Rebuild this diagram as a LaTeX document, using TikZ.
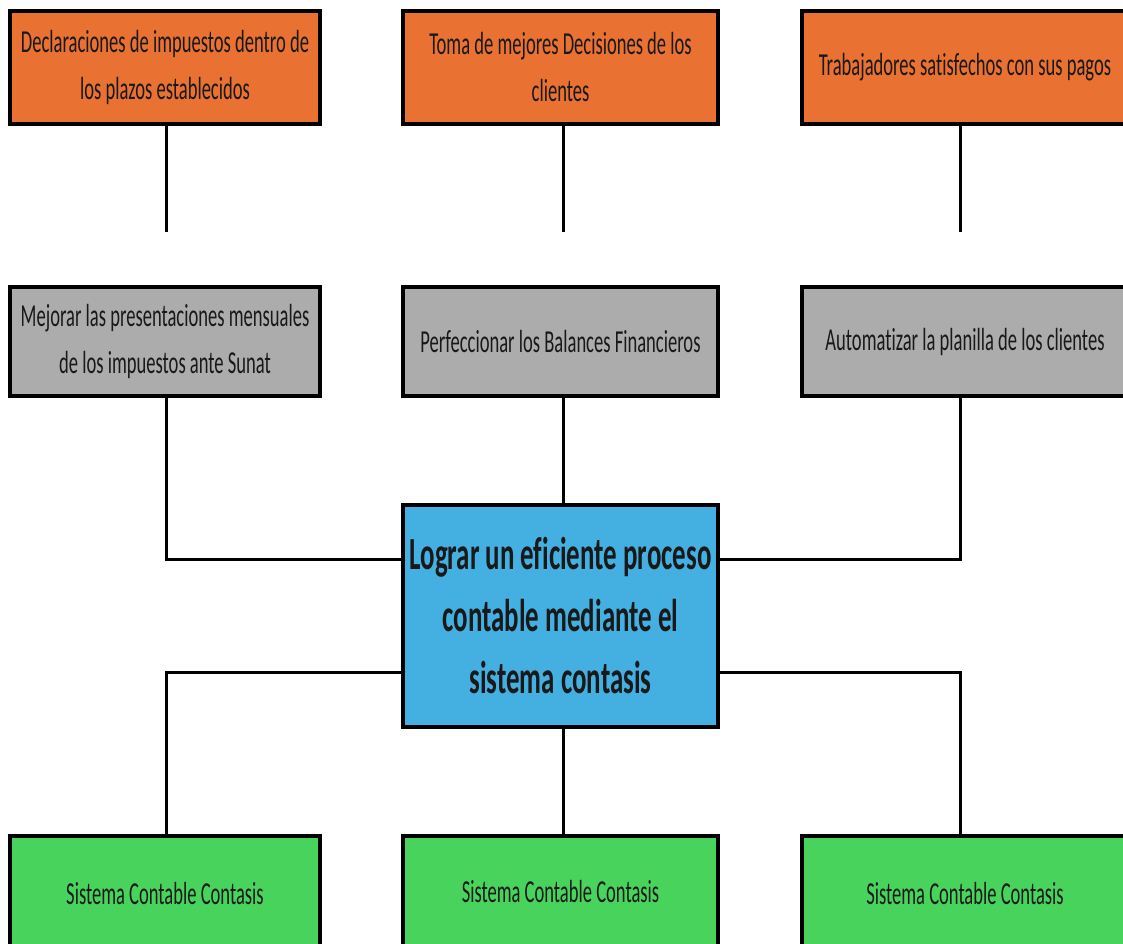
\documentclass[tikz,border=0pt]{standalone}
\usepackage{fontspec}
\newfontfamily\boxfont[FakeStretch=0.58,Ligatures=NoCommon]{Carlito}
\newfontfamily\goalfont[FakeStretch=0.585,Ligatures=NoCommon]{Carlito}
\usetikzlibrary{calc}
\definecolor{orangebox}{RGB}{233,113,50}
\definecolor{graybox}{RGB}{172,172,172}
\definecolor{bluebox}{RGB}{68,176,225}
\definecolor{greenbox}{RGB}{72,212,92}
\tikzset{
  card/.style={draw=black, line width=4pt, rectangle, align=center, inner sep=0pt,
    font=\boxfont\fontsize{32}{47}\selectfont, text=black!90},
  effect/.style={card, fill=orangebox},
  action/.style={card, fill=graybox},
  goal/.style={card, fill=bluebox, font=\goalfont\bfseries\fontsize{46}{62}\selectfont},
  tool/.style={card, fill=greenbox},
  link/.style={draw=black, line width=3pt}
}
\begin{document}
\begin{tikzpicture}[x=1pt,y=-1pt]
\useasboundingbox (0,0) rectangle (1123,943);
\clip (0,0) rectangle (1123,943);
\fill[white] (0,0) rectangle (1123,943);
% top row
\node[effect, minimum width=310pt, minimum height=113pt] (o1) at (165,67.5) {Declaraciones de impuestos dentro de\\los plazos establecidos};
\node[effect, minimum width=315pt, minimum height=113pt] (o2) at (560.5,67.5) {Toma de mejores Decisiones de los\\clientes};
\node[effect, minimum width=326pt, minimum height=113pt] (o3) at (965,67.5) {\raisebox{-2pt}{Trabajadores satisfechos con sus pagos}};
% gray row
\node[action, minimum width=310pt, minimum height=109pt] (g1) at (165,341.5) {Mejorar las presentaciones mensuales\\de los impuestos ante Sunat};
\node[action, minimum width=315pt, minimum height=109pt] (g2) at (560.5,341.5) {Perfeccionar los Balances Financieros};
\node[action, minimum width=326pt, minimum height=109pt] (g3) at (965,341.5) {Automatizar la planilla de los clientes};
% center
\node[goal, minimum width=315pt, minimum height=222pt] (c) at (560.5,616) {Lograr un eficiente proceso\\contable mediante el\\sistema contasis};
% green row
\node[tool, minimum width=310pt, minimum height=114pt] (b1) at (165,893) {Sistema Contable Contasis};
\node[tool, minimum width=315pt, minimum height=114pt] (b2) at (560.5,893) {\raisebox{3pt}{Sistema Contable Contasis}};
\node[tool, minimum width=326pt, minimum height=114pt] (b3) at (965,893) {Sistema Contable Contasis};
% free ends
\coordinate (e1) at (166,232);
\coordinate (e2) at (563,232);
\coordinate (e3) at (960,232);
\draw[link] (o1.south -| e1) -- (e1);
\draw[link] (o2.south -| e2) -- (e2);
\draw[link] (o3.south -| e3) -- (e3);
% gray to center
\coordinate (cwu) at ($(c.north west)!0.25!(c.south west)$);
\coordinate (cwd) at ($(c.north west)!0.75!(c.south west)$);
\coordinate (ceu) at ($(c.north east)!0.25!(c.south east)$);
\coordinate (ced) at ($(c.north east)!0.75!(c.south east)$);
\draw[link] (g1.south -| e1) |- (cwu);
\draw[link] (g2.south -| e2) -- (c.north -| e2);
\draw[link] (g3.south -| e3) |- (ceu);
% center to green
\draw[link] (cwd) -| (b1.north -| e1);
\draw[link] (c.south -| e2) -- (b2.north -| e2);
\draw[link] (ced) -| (b3.north -| e3);
\end{tikzpicture}
\end{document}
